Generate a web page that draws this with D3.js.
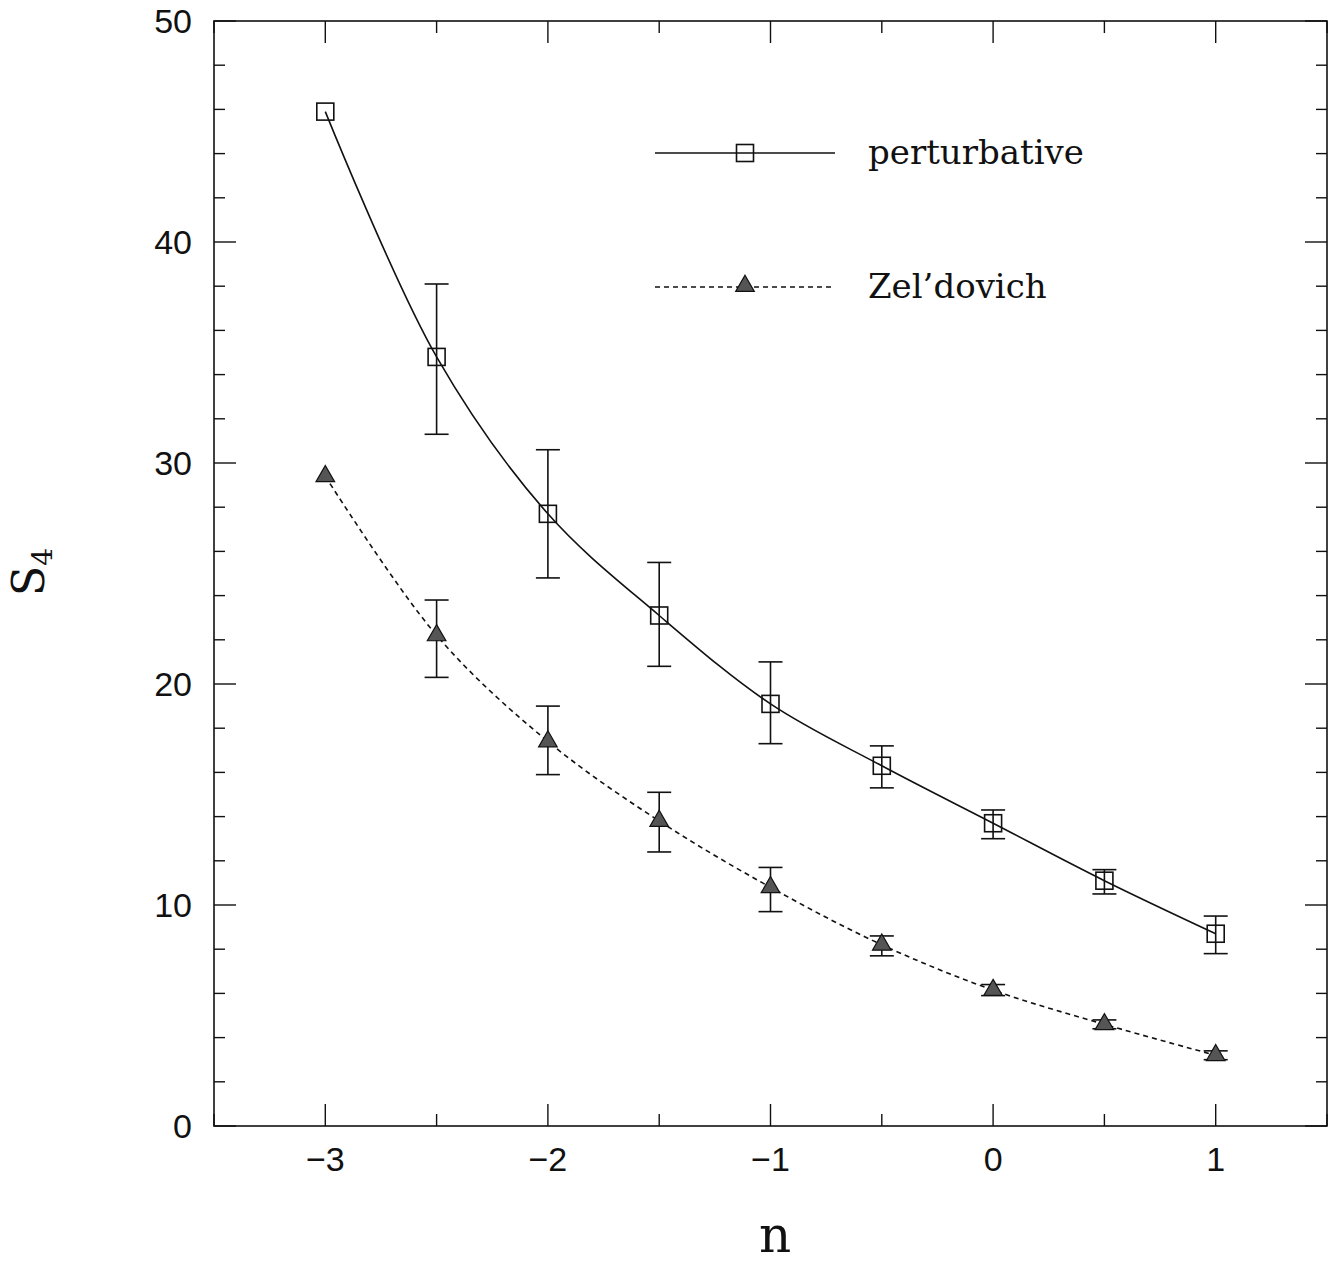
<!DOCTYPE html>
<html>
<head>
<meta charset="utf-8">
<script src="https://cdn.jsdelivr.net/npm/d3@7"></script>
<style>
  body { margin: 0; background: #fff; }
  svg text { fill: #111; }
</style>
</head>
<body>
<svg id="grafico"></svg>
<script>
// datos
const nValues = [-3, -2.5, -2, -1.5, -1, -0.5, 0, 0.5, 1];
const pertValues = [45.9, 34.8, 27.7, 23.1, 19.1, 16.3, 13.7, 11.1, 8.7];
const pertLow = [null, 31.3, 24.8, 20.8, 17.3, 15.3, 13.0, 10.5, 7.8];
const pertHigh = [null, 38.1, 30.6, 25.5, 21.0, 17.2, 14.3, 11.6, 9.5];
const zelValues = [29.4, 22.2, 17.4, 13.8, 10.8, 8.2, 6.15, 4.6, 3.2];
const zelLow = [null, 20.3, 15.9, 12.4, 9.7, 7.7, 5.9, 4.4, 3.0];
const zelHigh = [null, 23.8, 19.0, 15.1, 11.7, 8.6, 6.4, 4.8, 3.4];
const xTicks = [-3, -2, -1, 0, 1];
const yTicks = [0, 10, 20, 30, 40, 50];
const legendLabels = ["perturbative", "Zel\u2019dovich"];

const WIDTH = 1335;
const HEIGHT = 1268;
const margins = { top: 21, bottom: 142, left: 214, right: 8 };
const widthVis = WIDTH - margins.left - margins.right;
const heightVis = HEIGHT - margins.top - margins.bottom;

const svg = d3.select("#grafico").attr("width", WIDTH).attr("height", HEIGHT);
const g = svg.append("g").attr("transform", `translate(${margins.left},${margins.top})`);

const escalaX = d3.scaleLinear().domain([-3.5, 1.5]).range([0, widthVis]);
const escalaY = d3.scaleLinear().domain([0, 50]).range([heightVis, 0]);

// marco
g.append("rect").attr("width", widthVis).attr("height", heightVis)
  .attr("fill", "none").attr("stroke", "#111").attr("stroke-width", 1.6);

// ticks en los cuatro lados
const xMinor = d3.range(-3.5, 1.51, 0.5).filter(v => !xTicks.includes(v));
const yMinor = d3.range(0, 50.1, 2).filter(v => !yTicks.includes(v));
const marca = (x1, y1, x2, y2) => g.append("line")
  .attr("x1", x1).attr("y1", y1).attr("x2", x2).attr("y2", y2)
  .attr("stroke", "#111").attr("stroke-width", 1.4);
xTicks.forEach(v => { marca(escalaX(v), heightVis, escalaX(v), heightVis - 22); marca(escalaX(v), 0, escalaX(v), 22); });
xMinor.forEach(v => { marca(escalaX(v), heightVis, escalaX(v), heightVis - 12); marca(escalaX(v), 0, escalaX(v), 12); });
yTicks.forEach(v => { marca(0, escalaY(v), 22, escalaY(v)); marca(widthVis, escalaY(v), widthVis - 22, escalaY(v)); });
yMinor.forEach(v => { marca(0, escalaY(v), 11, escalaY(v)); marca(widthVis, escalaY(v), widthVis - 11, escalaY(v)); });

// etiquetas de los ticks
g.selectAll(".xlab").data(xTicks).join("text")
  .attr("x", d => escalaX(d)).attr("y", heightVis + 45)
  .attr("text-anchor", "middle").attr("font-family", "Liberation Sans, sans-serif")
  .attr("font-size", 34)
  .text(d => d < 0 ? "\u2212" + Math.abs(d) : d);
g.selectAll(".ylab").data(yTicks).join("text")
  .attr("x", -22).attr("y", d => escalaY(d) + 12)
  .attr("text-anchor", "end").attr("font-family", "Liberation Sans, sans-serif")
  .attr("font-size", 34)
  .text(d => d);

// titulos de ejes
svg.append("text").attr("x", 775).attr("y", 1252).attr("text-anchor", "middle")
  .attr("font-family", "DejaVu Serif, serif").attr("font-size", 50).text("n");
const ty = svg.append("text").attr("transform", "translate(44,572) rotate(-90)")
  .attr("text-anchor", "middle").attr("font-family", "DejaVu Serif, serif").attr("font-size", 44);
ty.append("tspan").text("S");
ty.append("tspan").attr("font-size", 28).attr("dy", 8).text("4");

// datos combinados
const serie = (vals, lo, hi) => nValues.map((n, i) => ({ n, v: vals[i], lo: lo[i], hi: hi[i] }));
const pert = serie(pertValues, pertLow, pertHigh);
const zel = serie(zelValues, zelLow, zelHigh);

const linea = d3.line().x(d => escalaX(d.n)).y(d => escalaY(d.v)).curve(d3.curveCatmullRom.alpha(0.5));
g.append("path").datum(pert).attr("d", linea).attr("fill", "none")
  .attr("stroke", "#111").attr("stroke-width", 1.6);
g.append("path").datum(zel).attr("d", linea).attr("fill", "none")
  .attr("stroke", "#111").attr("stroke-width", 1.6).attr("stroke-dasharray", "5,4");

// barras de error
const barras = (datos) => {
  const e = g.append("g").selectAll("g").data(datos.filter(d => d.lo != null)).join("g")
    .attr("stroke", "#111").attr("stroke-width", 1.6);
  e.append("line").attr("x1", d => escalaX(d.n)).attr("x2", d => escalaX(d.n))
    .attr("y1", d => escalaY(d.lo)).attr("y2", d => escalaY(d.hi));
  e.append("line").attr("x1", d => escalaX(d.n) - 12).attr("x2", d => escalaX(d.n) + 12)
    .attr("y1", d => escalaY(d.lo)).attr("y2", d => escalaY(d.lo));
  e.append("line").attr("x1", d => escalaX(d.n) - 12).attr("x2", d => escalaX(d.n) + 12)
    .attr("y1", d => escalaY(d.hi)).attr("y2", d => escalaY(d.hi));
};
barras(pert);
barras(zel);

// simbolos
const cuadrado = (sel) => sel.attr("width", 17).attr("height", 17)
  .attr("fill", "#fff").attr("fill-opacity", 0).attr("stroke", "#111").attr("stroke-width", 1.6);
g.selectAll(".sq").data(pert).join("rect")
  .attr("x", d => escalaX(d.n) - 8.5).attr("y", d => escalaY(d.v) - 8.5).call(cuadrado);
const tri = d3.symbol().type(d3.symbolTriangle).size(150);
g.selectAll(".tri").data(zel).join("path")
  .attr("d", tri).attr("transform", d => `translate(${escalaX(d.n)},${escalaY(d.v)})`)
  .attr("fill", "#555").attr("stroke", "#111").attr("stroke-width", 1.2);

// leyenda
const ley = svg.append("g");
ley.append("line").attr("x1", 655).attr("x2", 835).attr("y1", 153).attr("y2", 153)
  .attr("stroke", "#111").attr("stroke-width", 1.6);
ley.append("rect").attr("x", 745 - 8.5).attr("y", 153 - 8.5).call(cuadrado);
ley.append("line").attr("x1", 655).attr("x2", 835).attr("y1", 287).attr("y2", 287)
  .attr("stroke", "#111").attr("stroke-width", 1.6).attr("stroke-dasharray", "5,4");
ley.append("path").attr("d", tri).attr("transform", "translate(745,286)")
  .attr("fill", "#555").attr("stroke", "#111").attr("stroke-width", 1.2);
ley.selectAll("text").data(legendLabels).join("text")
  .attr("x", 868).attr("y", (d, i) => 164 + i * 134)
  .attr("font-family", "DejaVu Serif, serif").attr("font-size", 34)
  .attr("font-weight", 300)
  .text(d => d);
</script>
</body>
</html>
